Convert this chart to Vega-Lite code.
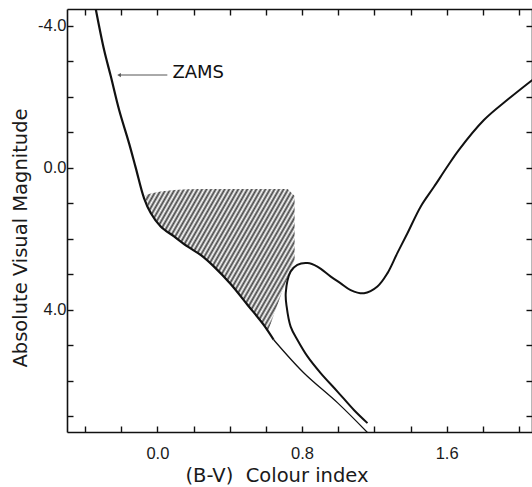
{
  "$schema": "https://vega.github.io/schema/vega-lite/v6.json",
  "width": 465,
  "height": 423,
  "autosize": {"type": "none"},
  "padding": {"left": 67, "top": 9, "right": 0, "bottom": 55},
  "background": "white",
  "config": {
    "view": {"stroke": null},
    "axis": {
      "grid": false,
      "domainColor": "#111111",
      "domainWidth": 1.6,
      "tickColor": "#111111",
      "tickWidth": 1.4,
      "tickSize": -6,
      "labelFont": "Liberation Sans",
      "labelFontSize": 16.5,
      "labelColor": "#1a1a1a",
      "titleFont": "DejaVu Sans",
      "titleFontSize": 19.5,
      "titleFontWeight": "normal",
      "titleColor": "#1a1a1a"
    }
  },
  "datasets": {
    "zams": [
      {"bv": -0.341, "mag": -4.47},
      {"bv": -0.295, "mag": -3.32},
      {"bv": -0.258, "mag": -2.58},
      {"bv": -0.212, "mag": -1.63},
      {"bv": -0.157, "mag": -0.69},
      {"bv": -0.120, "mag": 0.00},
      {"bv": -0.074, "mag": 0.86},
      {"bv": -0.037, "mag": 1.28},
      {"bv": 0.018, "mag": 1.66},
      {"bv": 0.092, "mag": 1.94},
      {"bv": 0.166, "mag": 2.22},
      {"bv": 0.239, "mag": 2.46},
      {"bv": 0.313, "mag": 2.79},
      {"bv": 0.405, "mag": 3.28},
      {"bv": 0.499, "mag": 3.87},
      {"bv": 0.588, "mag": 4.43},
      {"bv": 0.643, "mag": 4.85},
      {"bv": 0.809, "mag": 5.78},
      {"bv": 0.997, "mag": 6.63},
      {"bv": 1.163, "mag": 7.47}
    ],
    "isochrone": [
      {"i": 1, "bv": 1.162, "mag": 7.20},
      {"i": 2, "bv": 1.087, "mag": 6.83},
      {"i": 3, "bv": 0.996, "mag": 6.31},
      {"i": 4, "bv": 0.903, "mag": 5.79},
      {"i": 5, "bv": 0.830, "mag": 5.32},
      {"i": 6, "bv": 0.774, "mag": 4.85},
      {"i": 7, "bv": 0.737, "mag": 4.48},
      {"i": 8, "bv": 0.715, "mag": 3.92},
      {"i": 9, "bv": 0.710, "mag": 3.53},
      {"i": 10, "bv": 0.737, "mag": 2.93},
      {"i": 11, "bv": 0.774, "mag": 2.74},
      {"i": 12, "bv": 0.830, "mag": 2.69},
      {"i": 13, "bv": 0.885, "mag": 2.79},
      {"i": 14, "bv": 0.959, "mag": 3.07},
      {"i": 15, "bv": 1.014, "mag": 3.26},
      {"i": 16, "bv": 1.069, "mag": 3.45},
      {"i": 17, "bv": 1.143, "mag": 3.54},
      {"i": 18, "bv": 1.217, "mag": 3.35},
      {"i": 19, "bv": 1.272, "mag": 2.98},
      {"i": 20, "bv": 1.327, "mag": 2.41},
      {"i": 21, "bv": 1.383, "mag": 1.85},
      {"i": 22, "bv": 1.456, "mag": 1.10},
      {"i": 23, "bv": 1.530, "mag": 0.54},
      {"i": 24, "bv": 1.604, "mag": -0.03},
      {"i": 25, "bv": 1.668, "mag": -0.50},
      {"i": 26, "bv": 1.806, "mag": -1.34},
      {"i": 27, "bv": 1.936, "mag": -1.91},
      {"i": 28, "bv": 2.074, "mag": -2.47}
    ],
    "hatch": [
      {"bv": -0.065, "top": 0.77, "bot": 0.86},
      {"bv": -0.037, "top": 0.73, "bot": 1.28},
      {"bv": 0.018, "top": 0.67, "bot": 1.66},
      {"bv": 0.092, "top": 0.63, "bot": 1.94},
      {"bv": 0.166, "top": 0.61, "bot": 2.22},
      {"bv": 0.239, "top": 0.60, "bot": 2.46},
      {"bv": 0.313, "top": 0.60, "bot": 2.79},
      {"bv": 0.405, "top": 0.60, "bot": 3.28},
      {"bv": 0.499, "top": 0.60, "bot": 3.87},
      {"bv": 0.588, "top": 0.60, "bot": 4.43},
      {"bv": 0.610, "top": 0.60, "bot": 4.63},
      {"bv": 0.682, "top": 0.60, "bot": 3.61},
      {"bv": 0.721, "top": 0.60, "bot": 3.09},
      {"bv": 0.759, "top": 0.80, "bot": 2.60}
    ],
    "arrow": [
      {"bv": -0.212, "bv2": 0.055, "mag": -2.61}
    ],
    "label": [
      {"bv": 0.083, "mag": -2.66, "text": "ZAMS"}
    ]
  },
  "layer": [
    {
      "data": {"name": "hatch"},
      "mark": {
        "type": "area",
        "clip": true,
        "color": {
          "gradient": "linear",
          "x1": 0, "y1": 0, "x2": 1.17, "y2": 0.64,
          "stops": [
            {"offset": 0.00, "color": "#ffffff"}, {"offset": 0.01, "color": "#444444"},
            {"offset": 0.02, "color": "#ffffff"}, {"offset": 0.03, "color": "#444444"},
            {"offset": 0.04, "color": "#ffffff"}, {"offset": 0.05, "color": "#444444"},
            {"offset": 0.06, "color": "#ffffff"}, {"offset": 0.07, "color": "#444444"},
            {"offset": 0.08, "color": "#ffffff"}, {"offset": 0.09, "color": "#444444"},
            {"offset": 0.10, "color": "#ffffff"}, {"offset": 0.11, "color": "#444444"},
            {"offset": 0.12, "color": "#ffffff"}, {"offset": 0.13, "color": "#444444"},
            {"offset": 0.14, "color": "#ffffff"}, {"offset": 0.15, "color": "#444444"},
            {"offset": 0.16, "color": "#ffffff"}, {"offset": 0.17, "color": "#444444"},
            {"offset": 0.18, "color": "#ffffff"}, {"offset": 0.19, "color": "#444444"},
            {"offset": 0.20, "color": "#ffffff"}, {"offset": 0.21, "color": "#444444"},
            {"offset": 0.22, "color": "#ffffff"}, {"offset": 0.23, "color": "#444444"},
            {"offset": 0.24, "color": "#ffffff"}, {"offset": 0.25, "color": "#444444"},
            {"offset": 0.26, "color": "#ffffff"}, {"offset": 0.27, "color": "#444444"},
            {"offset": 0.28, "color": "#ffffff"}, {"offset": 0.29, "color": "#444444"},
            {"offset": 0.30, "color": "#ffffff"}, {"offset": 0.31, "color": "#444444"},
            {"offset": 0.32, "color": "#ffffff"}, {"offset": 0.33, "color": "#444444"},
            {"offset": 0.34, "color": "#ffffff"}, {"offset": 0.35, "color": "#444444"},
            {"offset": 0.36, "color": "#ffffff"}, {"offset": 0.37, "color": "#444444"},
            {"offset": 0.38, "color": "#ffffff"}, {"offset": 0.39, "color": "#444444"},
            {"offset": 0.40, "color": "#ffffff"}, {"offset": 0.41, "color": "#444444"},
            {"offset": 0.42, "color": "#ffffff"}, {"offset": 0.43, "color": "#444444"},
            {"offset": 0.44, "color": "#ffffff"}, {"offset": 0.45, "color": "#444444"},
            {"offset": 0.46, "color": "#ffffff"}, {"offset": 0.47, "color": "#444444"},
            {"offset": 0.48, "color": "#ffffff"}, {"offset": 0.49, "color": "#444444"},
            {"offset": 0.50, "color": "#ffffff"}, {"offset": 0.51, "color": "#444444"},
            {"offset": 0.52, "color": "#ffffff"}, {"offset": 0.53, "color": "#444444"},
            {"offset": 0.54, "color": "#ffffff"}, {"offset": 0.55, "color": "#444444"},
            {"offset": 0.56, "color": "#ffffff"}, {"offset": 0.57, "color": "#444444"},
            {"offset": 0.58, "color": "#ffffff"}, {"offset": 0.59, "color": "#444444"},
            {"offset": 0.60, "color": "#ffffff"}, {"offset": 0.61, "color": "#444444"},
            {"offset": 0.62, "color": "#ffffff"}, {"offset": 0.63, "color": "#444444"},
            {"offset": 0.64, "color": "#ffffff"}, {"offset": 0.65, "color": "#444444"},
            {"offset": 0.66, "color": "#ffffff"}, {"offset": 0.67, "color": "#444444"},
            {"offset": 0.68, "color": "#ffffff"}, {"offset": 0.69, "color": "#444444"},
            {"offset": 0.70, "color": "#ffffff"}, {"offset": 0.71, "color": "#444444"},
            {"offset": 0.72, "color": "#ffffff"}, {"offset": 0.73, "color": "#444444"},
            {"offset": 0.74, "color": "#ffffff"}, {"offset": 0.75, "color": "#444444"},
            {"offset": 0.76, "color": "#ffffff"}, {"offset": 0.77, "color": "#444444"},
            {"offset": 0.78, "color": "#ffffff"}, {"offset": 0.79, "color": "#444444"},
            {"offset": 0.80, "color": "#ffffff"}, {"offset": 0.81, "color": "#444444"},
            {"offset": 0.82, "color": "#ffffff"}, {"offset": 0.83, "color": "#444444"},
            {"offset": 0.84, "color": "#ffffff"}, {"offset": 0.85, "color": "#444444"},
            {"offset": 0.86, "color": "#ffffff"}, {"offset": 0.87, "color": "#444444"},
            {"offset": 0.88, "color": "#ffffff"}, {"offset": 0.89, "color": "#444444"},
            {"offset": 0.90, "color": "#ffffff"}, {"offset": 0.91, "color": "#444444"},
            {"offset": 0.92, "color": "#ffffff"}, {"offset": 0.93, "color": "#444444"},
            {"offset": 0.94, "color": "#ffffff"}, {"offset": 0.95, "color": "#444444"},
            {"offset": 0.96, "color": "#ffffff"}, {"offset": 0.97, "color": "#444444"},
            {"offset": 0.98, "color": "#ffffff"}, {"offset": 0.99, "color": "#444444"},
            {"offset": 1.00, "color": "#ffffff"}
          ]
        }
      },
      "encoding": {
        "x": {
          "field": "bv", "type": "quantitative",
          "scale": {"domain": [-0.5, 2.072], "nice": false, "zero": false},
          "axis": {
            "orient": "bottom",
            "values": [-0.4, -0.2, 0, 0.2, 0.4, 0.6, 0.8, 1.0, 1.2, 1.4, 1.6, 1.8, 2.0],
            "labelExpr": "datum.value == 0 ? '0.0' : datum.value == 0.8 ? '0.8' : datum.value == 1.6 ? '1.6' : ''",
            "labelPadding": 19,
            "labelFlush": false,
            "labelOverlap": false,
            "title": "(B-V)\u00a0 Colour index",
            "titleX": 209.5,
            "titleY": 43,
            "titleBaseline": "middle"
          }
        },
        "y": {
          "field": "top", "type": "quantitative",
          "scale": {"domain": [-4.47, 7.45], "nice": false, "zero": false, "reverse": true},
          "axis": {
            "orient": "left",
            "values": [-4, -3, -2, -1, 0, 1, 2, 3, 4, 5, 6, 7],
            "labelExpr": "datum.value == -4 ? '-4.0' : datum.value == 0 ? '0.0' : datum.value == 4 ? '4.0' : ''",
            "labelPadding": 7,
            "labelFlush": false,
            "labelOverlap": false,
            "title": "Absolute Visual Magnitude",
            "titleX": -47,
            "titleY": 228.5,
            "titleAngle": -90,
            "titleAlign": "center",
            "titleBaseline": "middle"
          }
        },
        "y2": {"field": "bot"}
      }
    },
    {
      "data": {"name": "zams"},
      "transform": [{"filter": "datum.mag <= 4.86"}],
      "mark": {"type": "line", "clip": true, "color": "#111111", "strokeWidth": 2.2, "interpolate": "catmull-rom"},
      "encoding": {
        "x": {
          "field": "bv", "type": "quantitative",
          "axis": {
            "orient": "top",
            "values": [-0.4, -0.2, 0, 0.2, 0.4, 0.6, 0.8, 1.0, 1.2, 1.4, 1.6, 1.8, 2.0],
            "labels": false,
            "title": null
          }
        },
        "y": {
          "field": "mag", "type": "quantitative",
          "axis": {
            "orient": "right",
            "values": [-4, -3, -2, -1, 0, 1, 2, 3, 4, 5, 6, 7],
            "labels": false,
            "title": null
          }
        }
      }
    },
    {
      "data": {"name": "zams"},
      "transform": [{"filter": "datum.mag >= 4.84"}],
      "mark": {"type": "line", "clip": true, "color": "#111111", "strokeWidth": 1.3, "interpolate": "catmull-rom"},
      "encoding": {
        "x": {"field": "bv", "type": "quantitative", "axis": null},
        "y": {"field": "mag", "type": "quantitative", "axis": null}
      }
    },
    {
      "data": {"name": "isochrone"},
      "mark": {"type": "line", "clip": true, "color": "#111111", "strokeWidth": 2, "interpolate": "catmull-rom"},
      "encoding": {
        "x": {"field": "bv", "type": "quantitative", "axis": null},
        "y": {"field": "mag", "type": "quantitative", "axis": null},
        "order": {"field": "i", "type": "quantitative"}
      }
    },
    {
      "data": {"name": "arrow"},
      "mark": {"type": "rule", "color": "#555555", "strokeWidth": 1},
      "encoding": {
        "x": {"field": "bv", "type": "quantitative", "axis": null},
        "x2": {"field": "bv2"},
        "y": {"field": "mag", "type": "quantitative", "axis": null}
      }
    },
    {
      "data": {"name": "arrow"},
      "mark": {"type": "point", "shape": "triangle-left", "filled": true, "color": "#555555", "size": 18, "opacity": 1},
      "encoding": {
        "x": {"field": "bv", "type": "quantitative", "axis": null},
        "y": {"field": "mag", "type": "quantitative", "axis": null}
      }
    },
    {
      "data": {"name": "label"},
      "mark": {"type": "text", "align": "left", "baseline": "middle", "font": "DejaVu Sans", "fontSize": 18, "color": "#111111"},
      "encoding": {
        "x": {"field": "bv", "type": "quantitative", "axis": null},
        "y": {"field": "mag", "type": "quantitative", "axis": null},
        "text": {"field": "text"}
      }
    }
  ],
  "resolve": {"axis": {"x": "independent", "y": "independent"}}
}
